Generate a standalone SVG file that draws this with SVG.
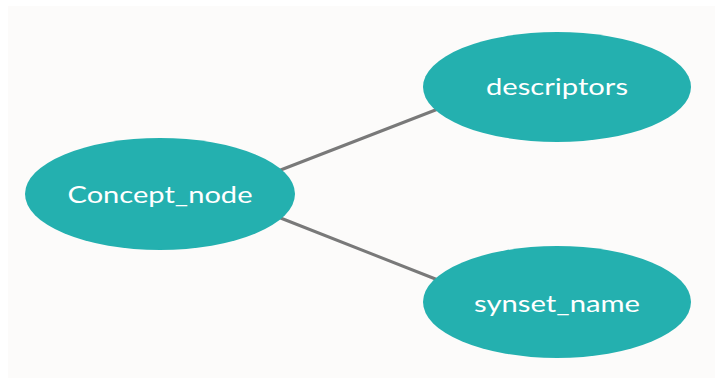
<svg xmlns="http://www.w3.org/2000/svg" width="721" height="381" viewBox="0 0 721 381">
<style>
.node{fill:#24b0af}
.lbl{fill:#ffffff;font-family:Lato,"Open Sans",sans-serif;font-size:24px;text-anchor:middle}
.edge{stroke:#797979;stroke-width:3;stroke-linecap:round;fill:none}
</style>
<rect x="0" y="0" width="721" height="381" fill="#ffffff"/>
<rect x="8" y="6" width="707" height="372" fill="#fcfbfa"/>
<g id="connectors">
<line class="edge" x1="278" y1="171" x2="438" y2="109"/>
<line class="edge" x1="278" y1="217" x2="438" y2="280"/>
</g>
<g id="concept_node">
<ellipse class="node" cx="160" cy="194" rx="135" ry="56"/>
<text class="lbl" x="160" y="203" textLength="185" lengthAdjust="spacingAndGlyphs">Concept_node</text>
</g>
<g id="descriptors">
<ellipse class="node" cx="557" cy="87" rx="134" ry="55"/>
<text class="lbl" x="557" y="95" textLength="142" lengthAdjust="spacingAndGlyphs">descriptors</text>
</g>
<g id="synset_name">
<ellipse class="node" cx="557" cy="302" rx="134" ry="56"/>
<text class="lbl" x="557" y="312" textLength="166" lengthAdjust="spacingAndGlyphs">synset_name</text>
</g>
</svg>
